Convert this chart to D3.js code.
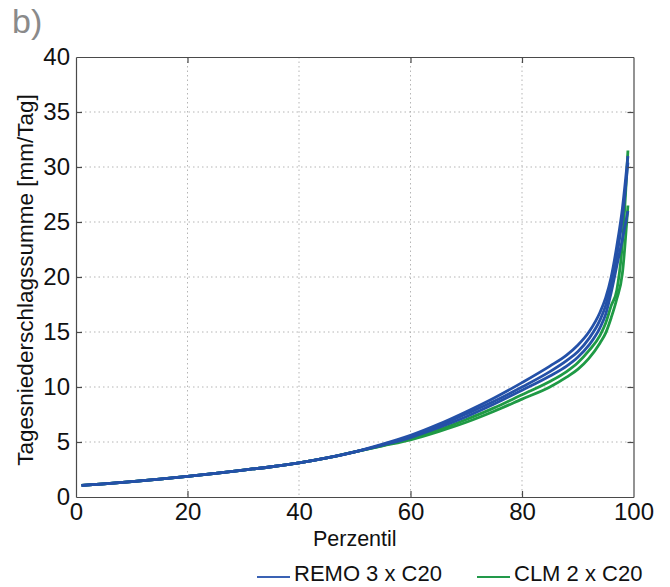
<!DOCTYPE html>
<html>
<head>
<meta charset="utf-8">
<script src="https://cdn.jsdelivr.net/npm/d3@7"></script>
<style>
  body { margin: 0; background: #fff; }
  text { font-family: "Liberation Sans", Arial, sans-serif; }
</style>
</head>
<body>
<div id="chart"></div>
<script>
// percentiles where values were read
var pct = [1, 5, 10, 15, 20, 25, 30, 35, 40, 45, 50, 55, 60, 65, 70, 75, 80, 85, 88, 90, 92, 94, 95, 96, 97, 98, 99];

var base = [1.05, 1.2, 1.4, 1.62, 1.87, 2.15, 2.45, 2.75, 3.1, 3.55, 4.1];
var remo1 = base.concat([4.8, 5.6, 6.6, 7.75, 9.0, 10.4, 11.9, 12.9, 13.8, 15.0, 16.8, 18.1, 20.0, 22.8, 26.2, 31.0]);
var remo2 = base.concat([4.75, 5.5, 6.45, 7.55, 8.7, 10.0, 11.4, 12.4, 13.2, 14.4, 16.1, 17.4, 19.4, 21.9, 25.3, 30.4]);
var remo3 = base.concat([4.72, 5.4, 6.3, 7.3, 8.45, 9.7, 11.0, 11.9, 12.7, 13.8, 15.4, 16.6, 18.6, 21.0, 23.4, 26.0]);
var clm1 = base.concat([4.68, 5.3, 6.1, 7.05, 8.1, 9.3, 10.5, 11.4, 12.2, 13.3, 14.7, 15.8, 17.4, 18.8, 23.0, 31.5]);
var clm2 = base.concat([4.65, 5.2, 5.95, 6.8, 7.8, 8.9, 10.0, 10.9, 11.6, 12.6, 14.0, 14.9, 16.3, 18.0, 20.3, 26.5]);

var xTicks = [0, 20, 40, 60, 80, 100];
var yTicks = [0, 5, 10, 15, 20, 25, 30, 35, 40];

var series = [
  {name: "CLM 2 x C20", color: "#1f9a45", values: clm1},
  {name: "CLM 2 x C20", color: "#1f9a45", values: clm2},
  {name: "REMO 3 x C20", color: "#2451a8", values: remo3},
  {name: "REMO 3 x C20", color: "#2451a8", values: remo2},
  {name: "REMO 3 x C20", color: "#2451a8", values: remo1}
];
var legend = [
  {name: "REMO 3 x C20", color: "#3a62b4", x: 257},
  {name: "CLM 2 x C20", color: "#22994a", x: 477}
];

var W = 670, H = 587,
    margin = {top: 57, right: 36.5, bottom: 90, left: 76},
    width = W - margin.left - margin.right,
    height = H - margin.top - margin.bottom;

var svg = d3.select("#chart").append("svg")
    .attr("width", W)
    .attr("height", H);

var g = svg.append("g")
    .attr("transform", "translate(" + margin.left + "," + margin.top + ")");

var xScale = d3.scaleLinear().domain([0, 100]).range([0, width]),
    yScale = d3.scaleLinear().domain([0, 40]).range([height, 0]);

// dotted grid
g.append("g").selectAll("line")
  .data(xTicks.slice(1, -1))
  .enter().append("line")
    .attr("x1", function(d) { return xScale(d); })
    .attr("x2", function(d) { return xScale(d); })
    .attr("y1", 0).attr("y2", height)
    .attr("stroke", "#b5b5b5").attr("stroke-width", 1)
    .attr("stroke-dasharray", "1.5,3");
g.append("g").selectAll("line")
  .data(yTicks.slice(1, -1))
  .enter().append("line")
    .attr("y1", function(d) { return yScale(d); })
    .attr("y2", function(d) { return yScale(d); })
    .attr("x1", 0).attr("x2", width)
    .attr("stroke", "#b5b5b5").attr("stroke-width", 1)
    .attr("stroke-dasharray", "1.5,3");

// curves
var line = d3.line()
  .x(function(d, i) { return xScale(pct[i]); })
  .y(function(d) { return yScale(d); })
  .curve(d3.curveMonotoneX);

g.selectAll(".curve")
  .data(series)
  .enter().append("path")
    .attr("class", "curve")
    .attr("d", function(d) { return line(d.values); })
    .attr("fill", "none")
    .attr("stroke", function(d) { return d.color; })
    .attr("stroke-width", 2.8);

// axes, MATLAB-like box with inward ticks
function styleAxis(sel, labels) {
  sel.select(".domain").attr("stroke", "#4a4a4a").attr("stroke-width", 1.2);
  sel.selectAll(".tick line").attr("stroke", "#4a4a4a").attr("stroke-width", 1.2);
  sel.selectAll(".tick text")
    .attr("fill", "#111")
    .style("font-size", "24px")
    .style("font-family", "'Liberation Sans', Arial, sans-serif");
  if (!labels) sel.selectAll(".tick text").remove();
}

var xAxis = d3.axisBottom(xScale).tickValues(xTicks).tickSizeInner(-6).tickSizeOuter(0).tickPadding(6);
var yAxis = d3.axisLeft(yScale).tickValues(yTicks).tickSizeInner(-6).tickSizeOuter(0).tickPadding(6);

g.append("g").attr("transform", "translate(0," + height + ")").call(xAxis)
  .call(function(s) { styleAxis(s, true); });
g.append("g").call(yAxis).call(function(s) { styleAxis(s, true); });
g.append("g").call(d3.axisTop(xScale).tickValues(xTicks).tickSizeInner(-6).tickSizeOuter(0))
  .call(function(s) { styleAxis(s, false); });
g.append("g").attr("transform", "translate(" + width + ",0)")
  .call(d3.axisRight(yScale).tickValues(yTicks).tickSizeInner(-6).tickSizeOuter(0))
  .call(function(s) { styleAxis(s, false); });

g.selectAll(".tick").filter(function(d) { return d === 0 || d === 100 || d === 40; })
  .select("line").remove();

// axis titles
svg.append("text")
  .attr("x", margin.left + width / 2)
  .attr("y", 546)
  .attr("text-anchor", "middle")
  .style("font-size", "21.5px")
  .attr("fill", "#111")
  .text("Perzentil");

svg.append("text")
  .attr("transform", "translate(33,280) rotate(-90)")
  .attr("text-anchor", "middle")
  .style("font-size", "22.5px")
  .attr("fill", "#111")
  .text("Tagesniederschlagssumme [mm/Tag]");

// panel label
svg.append("text")
  .attr("x", 12).attr("y", 33)
  .style("font-size", "34px")
  .attr("fill", "#8a8a8a")
  .text("b)");

// legend
var lg = svg.append("g").selectAll("g")
  .data(legend)
  .enter().append("g")
    .attr("transform", function(d) { return "translate(" + d.x + ",577)"; });
lg.append("line")
  .attr("x1", 0).attr("x2", 33).attr("y1", 0).attr("y2", 0)
  .attr("stroke", function(d) { return d.color; })
  .attr("stroke-width", 2.2);
lg.append("text")
  .attr("x", 37).attr("y", 4)
  .style("font-size", "22px")
  .attr("fill", "#111")
  .text(function(d) { return d.name; });
</script>
</body>
</html>
